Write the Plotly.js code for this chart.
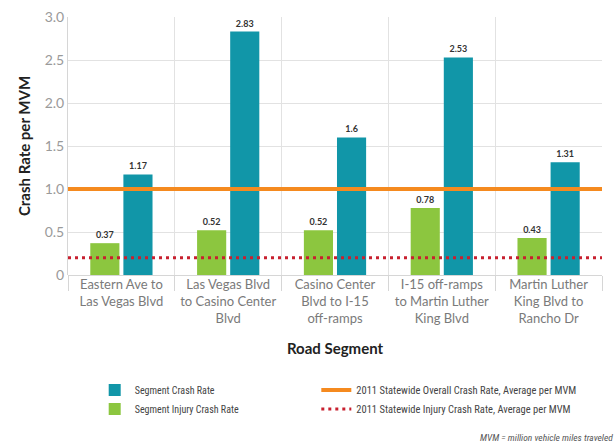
<!DOCTYPE html>
<html>
<head>
<meta charset="utf-8">
<script src="https://cdn.plot.ly/plotly-3.0.1.min.js"></script>
<style>html,body{margin:0;padding:0;background:#fff;}#chart{width:616px;height:448px;}</style>
</head>
<body>
<div id="chart"></div>
<script>
const segments = [
  "Eastern Ave to<br>Las Vegas Blvd",
  "Las Vegas Blvd<br>to Casino Center<br>Blvd",
  "Casino Center<br>Blvd to I-15<br>off-ramps",
  "I-15 off-ramps<br>to Martin Luther<br>King Blvd",
  "Martin Luther<br>King Blvd to<br>Rancho Dr"
];
const injuryRate = [0.37, 0.52, 0.52, 0.78, 0.43];
const crashRate = [1.17, 2.83, 1.6, 2.53, 1.31];
const injuryLabels = ["0.37", "0.52", "0.52", "0.78", "0.43"];
const crashLabels = ["1.17", "2.83", "1.6", "2.53", "1.31"];
const statewideOverall = 1.0;
const statewideInjury = 0.2;
const yTickVals = [0, 0.5, 1.0, 1.5, 2.0, 2.5, 3.0];
const yTickText = ["0", "0.5", "1.0", "1.5", "2.0", "2.5", "3.0"];

const FONT = "Lato, 'Open Sans', sans-serif";
const NARROW = "'Liberation Sans Narrow', 'Roboto Condensed', Lato, sans-serif";

const traces = [
  {
    type: "bar", name: "Segment Injury Crash Rate", x: segments, y: injuryRate,
    text: injuryLabels, textposition: "outside", cliponaxis: false,
    textfont: {size: 9, color: "#333", family: FONT, weight: "bold"},
    marker: {color: "#8cc63f"}, legend: "legend", legendrank: 2, hoverinfo: "y"
  },
  {
    type: "bar", name: "Segment Crash Rate", x: segments, y: crashRate,
    text: crashLabels, textposition: "outside", cliponaxis: false,
    textfont: {size: 9, color: "#333", family: FONT, weight: "bold"},
    marker: {color: "#1196a8"}, legend: "legend", legendrank: 1, hoverinfo: "y"
  },
  {
    type: "scatter", mode: "lines", name: "2011 Statewide Overall Crash Rate, Average per MVM",
    x: [0, 1], y: [statewideOverall, statewideOverall], xaxis: "x2",
    line: {color: "#f58a1f", width: 4}, legend: "legend2", legendrank: 1
  },
  {
    type: "scatter", mode: "lines", name: "2011 Statewide Injury Crash Rate, Average per MVM",
    x: [0, 1], y: [statewideInjury, statewideInjury], xaxis: "x2",
    line: {color: "#c8202f", width: 3, dash: "3px,4px"}, legend: "legend2", legendrank: 2
  }
];

const legendCommon = {
  orientation: "v", xanchor: "left", yanchor: "top",
  font: {size: 10, color: "#444", family: NARROW},
  itemwidth: 30, tracegroupgap: 0, bgcolor: "rgba(0,0,0,0)", borderwidth: 0
};

const layout = {
  width: 616, height: 448,
  margin: {l: 68, r: 14, t: 17, b: 173},
  paper_bgcolor: "#fff", plot_bgcolor: "#fff",
  font: {family: FONT, color: "#333"},
  barmode: "group", bargap: 0.38, bargroupgap: 0.12,
  showlegend: true,
  legend: Object.assign({}, legendCommon, {x: 0.05, y: -0.39}),
  legend2: Object.assign({}, legendCommon, {x: 0.465, y: -0.39, font: {size: 10.5, color: "#444", family: NARROW}}),
  xaxis: {
    type: "category", categoryorder: "array", categoryarray: segments,
    tickson: "boundaries", ticks: "outside", ticklen: 15, tickcolor: "#d6d6d6",
    showgrid: true, gridcolor: "#e2e2e2", showline: false, zeroline: false,
    tickfont: {size: 13, color: "#7a7a7a", family: FONT},
    title: {text: "Road Segment", font: {size: 15, color: "#222", family: FONT, weight: "bold"}, standoff: 18}
  },
  xaxis2: {overlaying: "x", range: [0, 1], visible: false, fixedrange: true},
  yaxis: {
    range: [0, 3], tickvals: yTickVals, ticktext: yTickText,
    showgrid: true, gridcolor: "#e2e2e2", zeroline: true, zerolinecolor: "#d6d6d6",
    showline: true, linecolor: "#d6d6d6", ticks: "",
    tickfont: {size: 14, color: "#9a9a9a", family: FONT},
    title: {text: "Crash Rate per MVM", font: {size: 15, color: "#222", family: FONT, weight: "bold"}, standoff: 10}
  },
  annotations: [
    {
      xref: "paper", yref: "paper", x: 1.024, y: -0.628, xanchor: "right", yanchor: "middle",
      text: "<i>MVM = million vehicle miles traveled</i>", showarrow: false,
      font: {size: 9.5, color: "#555", family: NARROW}
    }
  ]
};

Plotly.newPlot("chart", traces, layout, {displayModeBar: false, staticPlot: true});
</script>
</body>
</html>
